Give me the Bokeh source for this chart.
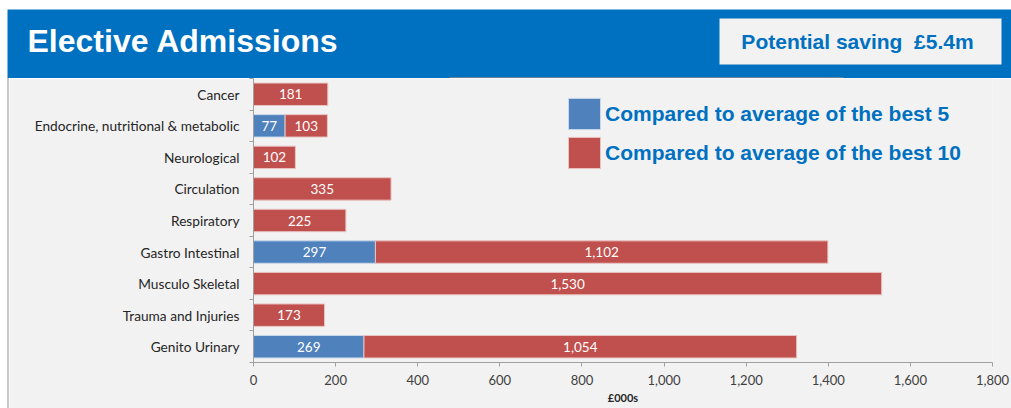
from bokeh.plotting import figure
from bokeh.layouts import column, row
from bokeh.models import (Range1d, FixedTicker, NumeralTickFormatter, Legend,
                          LegendItem, Label, ColumnDataSource, Div)
from bokeh.core.properties import value
from bokeh.embed import file_html
from bokeh.resources import INLINE

# ---- data ----
categories = ["Cancer", "Endocrine, nutritional & metabolic", "Neurological",
              "Circulation", "Respiratory", "Gastro Intestinal",
              "Musculo Skeletal", "Trauma and Injuries", "Genito Urinary"]
best5 = [0, 77, 0, 0, 0, 297, 0, 0, 269]
best10 = [181, 103, 102, 335, 225, 1102, 1530, 173, 1054]
x_ticks = [0, 200, 400, 600, 800, 1000, 1200, 1400, 1600, 1800]
series_names = ["Compared to average of the best 5",
                "Compared to average of the best 10"]
title_text = "Elective Admissions"
saving_text = "Potential saving\u00a0 \u00a35.4m"
x_label = "\u00a3000s"

BLUE = "#4f81bd"
RED = "#c0504d"
BG = "#f2f2f2"
HDR = "#0070c0"
LBL_FONT = "Lato"

n = len(categories)
ypos = [n - 1 - i + 0.5 for i in range(n)]

b5_idx = [i for i in range(n) if best5[i] > 0]
src_blue = ColumnDataSource(dict(
    y=[ypos[i] for i in b5_idx],
    right=[best5[i] for i in b5_idx],
    xc=[best5[i] / 2 for i in b5_idx],
    txt=[f"{best5[i]:,}" for i in b5_idx],
))
src_red = ColumnDataSource(dict(
    y=ypos,
    left=best5,
    right=[a + b for a, b in zip(best5, best10)],
    xc=[a + b / 2 for a, b in zip(best5, best10)],
    txt=[f"{b:,}" for b in best10],
))

# ---- main chart ----
p = figure(width=1002, height=330, x_range=Range1d(x_ticks[0], x_ticks[-1]),
           y_range=Range1d(0, n),
           output_backend="svg", toolbar_location=None,
           min_border_left=244, min_border_right=19, min_border_top=0,
           min_border_bottom=46, background_fill_color=BG, border_fill_color=BG,
           outline_line_color=None)
p.grid.visible = False

r_blue = p.hbar(y="y", left=0, right="right", height=0.71, source=src_blue,
                fill_color=BLUE, line_color="#c9d7ea", line_width=1)
r_red = p.hbar(y="y", left="left", right="right", height=0.71, source=src_red,
               fill_color=RED, line_color="#e8c3c2", line_width=1)

for s in (src_blue, src_red):
    p.text(x="xc", y="y", text="txt", source=s, text_color="white",
           text_font=value(LBL_FONT), text_font_size="13.5px",
           text_align="center", text_baseline="middle")

xa = p.xaxis[0]
xa.ticker = FixedTicker(ticks=x_ticks)
xa.formatter = NumeralTickFormatter(format="0,0")
xa.major_label_text_font = LBL_FONT
xa.major_label_text_font_size = "13px"
xa.major_label_text_color = "#404040"
xa.major_label_standoff = 8
xa.axis_line_color = "#a0a0a0"
xa.major_tick_line_color = "#a0a0a0"
xa.major_tick_out = 4
xa.major_tick_in = 0
xa.minor_tick_line_color = None
xa.axis_label = x_label
xa.axis_label_text_font = LBL_FONT
xa.axis_label_text_font_style = "bold"
xa.axis_label_text_font_size = "11px"
xa.axis_label_text_color = "#262626"
xa.axis_label_standoff = 3

ya = p.yaxis[0]
ya.ticker = FixedTicker(ticks=ypos, minor_ticks=list(range(n + 1)))
ya.major_label_overrides = {y: c for y, c in zip(ypos, categories)}
ya.major_label_text_font = LBL_FONT
ya.major_label_text_font_size = "13.7px"
ya.major_label_text_color = "#262626"
ya.major_label_standoff = 10
ya.major_tick_out = 0
ya.major_tick_in = 0
ya.minor_tick_out = 4
ya.minor_tick_in = 0
ya.minor_tick_line_color = "#a0a0a0"
ya.axis_line_color = "#a0a0a0"

legend = Legend(items=[LegendItem(label=series_names[0], renderers=[r_blue]),
                       LegendItem(label=series_names[1], renderers=[r_red])],
                location=(311, 190), glyph_width=40, glyph_height=39, spacing=-2,
                padding=0, margin=0, label_standoff=1,
                background_fill_alpha=0, border_line_color=None,
                label_text_font="Liberation Sans", label_text_font_style="bold",
                label_text_font_size="21px", label_text_color=HDR)
p.add_layout(legend)

# ---- header ----
h = figure(width=1011, height=78, x_range=Range1d(0, 1011), y_range=Range1d(78, 0),
           output_backend="svg", toolbar_location=None, min_border=0,
           background_fill_color="white", border_fill_color="white",
           outline_line_color=None)
h.axis.visible = False
h.grid.visible = False
h.quad(left=7, right=1011, top=9, bottom=78, fill_color=HDR, line_color=None)
h.quad(left=719, right=1001, top=18, bottom=64, fill_color=BG, line_color=None)
h.quad(left=449, right=843, top=76.8, bottom=78, fill_color="#8a8a8a", line_color=None)
h.add_layout(Label(x=27, y=40, text=title_text, text_color="white",
                   text_font="Liberation Sans", text_font_style="bold",
                   text_font_size="32px", text_baseline="middle"))
h.add_layout(Label(x=857, y=41, text=saving_text, text_color=HDR,
                   text_font="Liberation Sans", text_font_style="bold",
                   text_font_size="21px", text_baseline="middle", text_align="center"))

# ---- left strip ----
strip = Div(text="", width=9, height=330, margin=0,
            styles={"background-color": "white",
                    "border-right": "2px solid #c8c8c8",
                    "box-sizing": "border-box", "height": "330px"})

layout = column(h, row(strip, p, spacing=0), spacing=0)
open("out.html", "w").write(file_html(layout, INLINE))
